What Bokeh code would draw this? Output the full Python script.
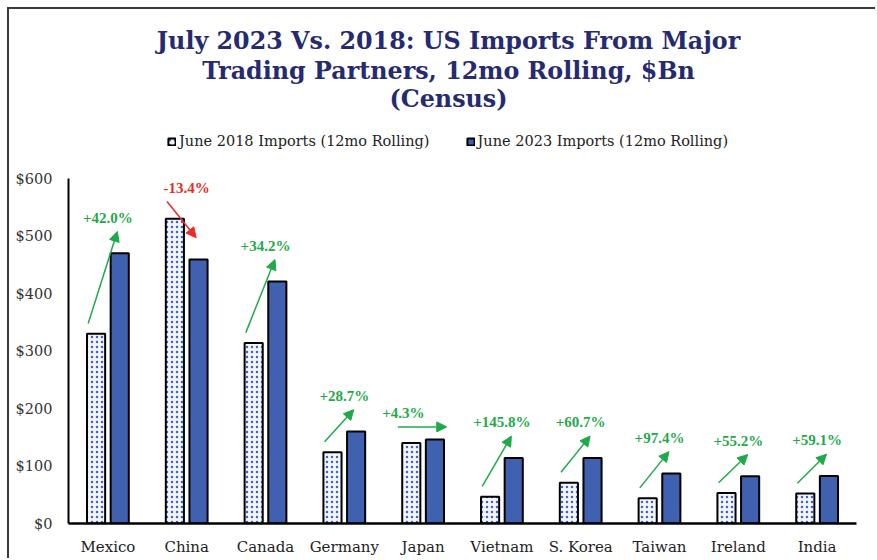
from bokeh.plotting import figure
from bokeh.models import (ColumnDataSource, Range1d, FixedTicker, Arrow, NormalHead,
                          Legend, LegendItem, LabelSet, Label)
from bokeh.embed import file_html
from bokeh.resources import INLINE
import numpy as np

countries = ["Mexico", "China", "Canada", "Germany", "Japan", "Vietnam",
             "S. Korea", "Taiwan", "Ireland", "India"]
imports_2018 = [330, 530, 314, 124, 140, 46.5, 71, 44, 53, 52]
imports_2023 = [470, 459, 421, 160, 146, 114, 114, 87, 82, 82.5]
change_labels = ["+42.0%", "-13.4%", "+34.2%", "+28.7%", "+4.3%", "+145.8%",
                 "+60.7%", "+97.4%", "+55.2%", "+59.1%"]
y_ticks = [0, 100, 200, 300, 400, 500, 600]
y_tick_labels = ["$0", "$100", "$200", "$300", "$400", "$500", "$600"]
title_lines = ["July 2023 Vs. 2018: US Imports From Major",
               "Trading Partners, 12mo Rolling, $Bn",
               "(Census)"]
series_names = ["June 2018 Imports (12mo Rolling)", "June 2023 Imports (12mo Rolling)"]

SERIF = "DejaVu Serif"
NAVY = "#262a70"
BLUE = "#4061b0"
GREEN = "#1faa4a"
RED = "#ec2a26"

# layout (pixels, canvas coordinates)
W, H, BOTTOM = 868, 551, 37
AXIS_PX = 345                       # pixel height of the 0..600 axis
frame_px = H - BOTTOM               # frame runs to the canvas top
y_max = max(y_ticks)
px_per_unit = AXIS_PX / y_max
y_end = frame_px / px_per_unit
TOP600 = frame_px - AXIS_PX         # canvas y of the 600 line
title_centers_px = [31, 61, 89]     # canvas y of each title line

idx = np.arange(len(countries))
v18 = np.array(imports_2018, dtype=float)
v23 = np.array(imports_2023, dtype=float)

p = figure(width=W, height=H, output_backend="svg", toolbar_location=None,
           x_range=Range1d(-0.5, len(countries) - 0.5), y_range=Range1d(0, y_end),
           min_border_left=59, min_border_right=21, min_border_bottom=BOTTOM, min_border_top=0)
p.title = None
p.styles = {"margin-left": "7px", "margin-top": "7px",
            "border-left": "2px solid #3a3a3a", "border-top": "2px solid #3a3a3a"}

src = ColumnDataSource(dict(x18=idx - 0.15, x23=idx + 0.15, v18=v18, v23=v23))
r18 = p.vbar(x="x18", top="v18", width=0.23, source=src, fill_color="#f3f5fb",
             line_color="black", line_width=2, hatch_pattern=".", hatch_color="#3e63c6",
             hatch_scale=5, hatch_weight=1.2)
r23 = p.vbar(x="x23", top="v23", width=0.23, source=src, fill_color=BLUE,
             line_color="black", line_width=2)

# arrows & labels derived from data
growth = v23 / v18 - 1
colors = [RED if g < 0 else GREEN for g in growth]
flat = np.abs(growth) < 0.10
tail_y = np.where(flat, np.maximum(v18, v23) + 22, v18 + np.where(growth < 0, 30, 18))
head_y = np.where(flat, np.maximum(v18, v23) + 22, v23 + 38)
tail_x = idx + np.where(flat, -0.32, -0.25)
head_x = idx + np.where(flat, 0.30, 0.12)
lab_y = np.maximum(tail_y, head_y) + 24
lab_x = idx + np.where(flat, -0.25, 0.0)
asrc = ColumnDataSource(dict(lx=lab_x, ly=lab_y, t=change_labels, c=colors))
for i in range(len(countries)):
    p.add_layout(Arrow(end=NormalHead(size=10, fill_color=colors[i], line_color=colors[i]),
                       x_start=tail_x[i], y_start=tail_y[i], x_end=head_x[i], y_end=head_y[i],
                       line_color=colors[i], line_width=1.5))
labels = LabelSet(x="lx", y="ly", text="t", source=asrc, text_color="c",
                  text_font=SERIF, text_font_style="bold", text_font_size="15px",
                  text_align="center", text_baseline="middle")
p.add_layout(labels)

# legend inside the (extended) frame, above the 600 line
legend = Legend(items=[LegendItem(label=series_names[0], renderers=[r18]),
                       LegendItem(label=series_names[1], renderers=[r23])],
                orientation="horizontal", location=(99, 374), padding=0, margin=0,
                glyph_width=9, glyph_height=9, label_standoff=3, spacing=36,
                label_text_font=SERIF, label_text_font_size="14.5px", label_text_color="#222",
                border_line_color=None, background_fill_alpha=0)
p.add_layout(legend, "center")

# title lines, centred slightly left of the frame centre as in the source
x_mid = (p.x_range.start + p.x_range.end) / 2
for line, cy in zip(title_lines, title_centers_px):
    p.add_layout(Label(x=x_mid, y=y_max + (TOP600 - cy) / px_per_unit, x_offset=-14,
                       text=line, text_font=SERIF, text_font_style="bold",
                       text_font_size="23.8px", text_color=NAVY,
                       text_align="center", text_baseline="middle"))

p.xgrid.visible = False
p.ygrid.visible = False
p.outline_line_color = None

p.xaxis.ticker = FixedTicker(ticks=list(idx))
p.xaxis.major_label_overrides = {int(i): c for i, c in zip(idx, countries)}
p.xaxis.axis_line_width = 2.5
p.xaxis.axis_line_color = "black"
p.xaxis.major_tick_line_color = None
p.xaxis.minor_tick_line_color = None
p.xaxis.major_label_standoff = 8
p.xaxis.major_label_text_font = SERIF
p.xaxis.major_label_text_font_size = "15px"
p.xaxis.major_label_text_color = "#222"

p.yaxis.ticker = FixedTicker(ticks=y_ticks)
p.yaxis.bounds = (0, y_max)
p.yaxis.major_label_overrides = {t: l for t, l in zip(y_ticks, y_tick_labels)}
p.yaxis.axis_line_width = 2
p.yaxis.axis_line_color = "black"
p.yaxis.major_tick_line_color = None
p.yaxis.minor_tick_line_color = None
p.yaxis.major_label_standoff = 10
p.yaxis.major_label_text_font = SERIF
p.yaxis.major_label_text_font_size = "14.5px"
p.yaxis.major_label_text_color = "#333"

open("out.html", "w").write(file_html(p, INLINE))
